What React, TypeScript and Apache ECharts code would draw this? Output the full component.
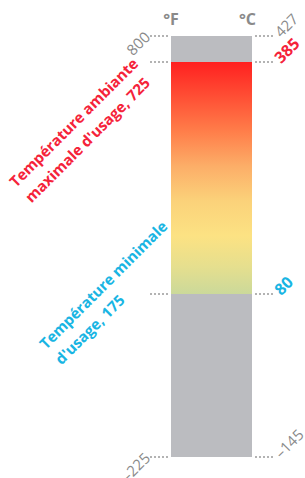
import React, { useEffect, useRef } from "react";
import * as echarts from "echarts";

// Temperature scale boundaries (top of bar, max use, min use, bottom of bar)
const scaleF = [800, 725, 175, -225];
const scaleC = [427, 385, 80, -145];
const categories = ["Plage"];
const zoneLabels = [
  "Température ambiante\nmaximale d'usage, 725",
  "Température minimale\nd'usage, 175",
];
const zoneValues = [725, 175];
const zoneColors = ["#f5233a", "#19b5e3"];
const unitNames = ["°F", "°C"];
// which scale values get a printed number label
const labelledF = [800, -225];
const labelledC = [427, 385, 80, -145];

// Layout (pixels) for the three piecewise-linear bands
const gridTops = [36, 62, 294];
const gridHeights = [26, 232, 163];
const GRID_LEFT = 168;
const GRID_RIGHT = 50;
const W = 305;

const GRAY = "#bbbcc0";
const LABEL_GRAY = "#8a8a8a";
const FONT = '"Open Sans", sans-serif';

const fmt = (v: number) => (v < 0 ? "–" + Math.abs(v) : String(v));

export default function App() {
  const ref = useRef<HTMLDivElement>(null);
  useEffect(() => {
    document.body.style.margin = "0";
    if (!ref.current) return;
    const chart = echarts.init(ref.current, undefined, { renderer: "svg" });

    const tickStyle = { color: "#9a9a9a", width: 1.5, type: [2, 2] as any };

    const grids = gridTops.map((t, i) => ({
      left: GRID_LEFT,
      right: GRID_RIGHT,
      top: t,
      height: gridHeights[i],
      containLabel: false,
      outerBoundsMode: "none",
    }));
    const xAxes = gridTops.map((_, i) => ({
      type: "category" as const,
      gridIndex: i,
      data: categories,
      show: false,
    }));

    const leftTicks = [[scaleF[0], scaleF[1]], [], [scaleF[2], scaleF[3]]];
    const rightTicks = [[scaleC[0], scaleC[1]], [], [scaleC[2], scaleC[3]]];

    const nameStyle = (pad: number[]) => ({
      color: LABEL_GRAY,
      fontSize: 16,
      fontWeight: "bold",
      fontFamily: FONT,
      padding: pad,
    });

    const yAxes: any[] = [];
    gridTops.forEach((_, i) => {
      yAxes.push({
        type: "value",
        gridIndex: i,
        position: "left",
        min: scaleF[i + 1],
        max: scaleF[i],
        name: i === 0 ? unitNames[0] : "",
        nameLocation: "end",
        nameGap: 9,
        nameTextStyle: nameStyle([0, 0, 0, 6]),
        axisLine: { show: false },
        splitLine: { show: false },
        axisTick: {
          show: leftTicks[i].length > 0,
          customValues: leftTicks[i],
          length: 20,
          lineStyle: tickStyle,
        },
        axisLabel: { show: false },
      });
      yAxes.push({
        type: "value",
        gridIndex: i,
        position: "right",
        min: scaleC[i + 1],
        max: scaleC[i],
        name: i === 0 ? unitNames[1] : "",
        nameLocation: "end",
        nameGap: 9,
        nameTextStyle: nameStyle([0, 15, 0, 0]),
        axisLine: { show: false },
        splitLine: { show: false },
        axisTick: {
          show: rightTicks[i].length > 0,
          customValues: rightTicks[i],
          length: 20,
          lineStyle: tickStyle,
        },
        axisLabel: { show: false },
      });
    });

    const gradient = new echarts.graphic.LinearGradient(0, 0, 0, 1, [
      { offset: 0, color: "#ff2020" },
      { offset: 0.16, color: "#ff5236" },
      { offset: 0.3, color: "#ff7e4a" },
      { offset: 0.45, color: "#fcae68" },
      { offset: 0.6, color: "#fbd27a" },
      { offset: 0.75, color: "#fce283" },
      { offset: 0.88, color: "#e6df8e" },
      { offset: 1, color: "#cbd99a" },
    ]);

    const barBase = {
      type: "bar" as const,
      barWidth: 81,
      clip: true,
      silent: true,
    };
    const grayBand = {
      itemStyle: { color: GRAY },
      showBackground: true,
      backgroundStyle: { color: GRAY },
    };

    const series: any[] = [
      { ...barBase, ...grayBand, xAxisIndex: 0, yAxisIndex: 0, data: [scaleF[0]] },
      { ...barBase, xAxisIndex: 1, yAxisIndex: 2, data: [scaleF[1]], itemStyle: { color: gradient } },
      { ...barBase, ...grayBand, xAxisIndex: 2, yAxisIndex: 4, data: [scaleF[3]] },
    ];

    chart.setOption({
      animation: false,
      textStyle: { fontFamily: FONT },
      grid: grids,
      xAxis: xAxes,
      yAxis: yAxes,
      series,
    });

    const bandOfF = (v: number) => (v > scaleF[1] ? 0 : v > scaleF[2] ? 1 : 2);
    const bandOfC = (v: number) => (v > scaleC[1] ? 0 : v > scaleC[2] ? 1 : 2);
    const yF = (v: number) =>
      chart.convertToPixel({ yAxisIndex: bandOfF(v) * 2 }, v) as number;
    const yC = (v: number) =>
      chart.convertToPixel({ yAxisIndex: bandOfC(v) * 2 + 1 }, v) as number;

    const graphics: any[] = [];

    // numeric labels, rotated 45°
    labelledF.forEach((v) => {
      graphics.push({
        type: "text",
        x: GRID_LEFT - 21,
        y: yF(v) - 2,
        rotation: Math.PI / 4,
        silent: true,
        style: {
          text: fmt(v),
          fill: LABEL_GRAY,
          fontSize: 15,
          fontFamily: FONT,
          align: "right",
          verticalAlign: "middle",
        },
      });
    });
    labelledC.forEach((v) => {
      const isRed = v === scaleC[1];
      const isCyan = v === scaleC[2];
      graphics.push({
        type: "text",
        x: W - GRID_RIGHT + 22,
        y: yC(v) - 2,
        rotation: Math.PI / 4,
        silent: true,
        style: {
          text: fmt(v),
          fill: isRed ? zoneColors[0] : isCyan ? zoneColors[1] : LABEL_GRAY,
          fontSize: isRed || isCyan ? 16 : 15,
          fontWeight: isRed || isCyan ? "bold" : "normal",
          fontFamily: FONT,
          align: "left",
          verticalAlign: "middle",
        },
      });
    });

    // Zone labels anchored to their scale values
    const offsets = [
      [-164, 114],
      [-134, 44],
    ];
    zoneValues.forEach((v, k) => {
      graphics.push({
        type: "text",
        x: GRID_LEFT + offsets[k][0],
        y: yF(v) + offsets[k][1],
        rotation: Math.PI / 4,
        silent: true,
        style: {
          text: zoneLabels[k],
          fill: zoneColors[k],
          fontSize: 15,
          fontWeight: "bold",
          fontFamily: FONT,
          align: "left",
          verticalAlign: "top",
          lineHeight: 22,
        },
      });
    });
    chart.setOption({ graphic: graphics });

    return () => chart.dispose();
  }, []);
  return <div ref={ref} style={{ width: 305, height: 478 }} />;
}
